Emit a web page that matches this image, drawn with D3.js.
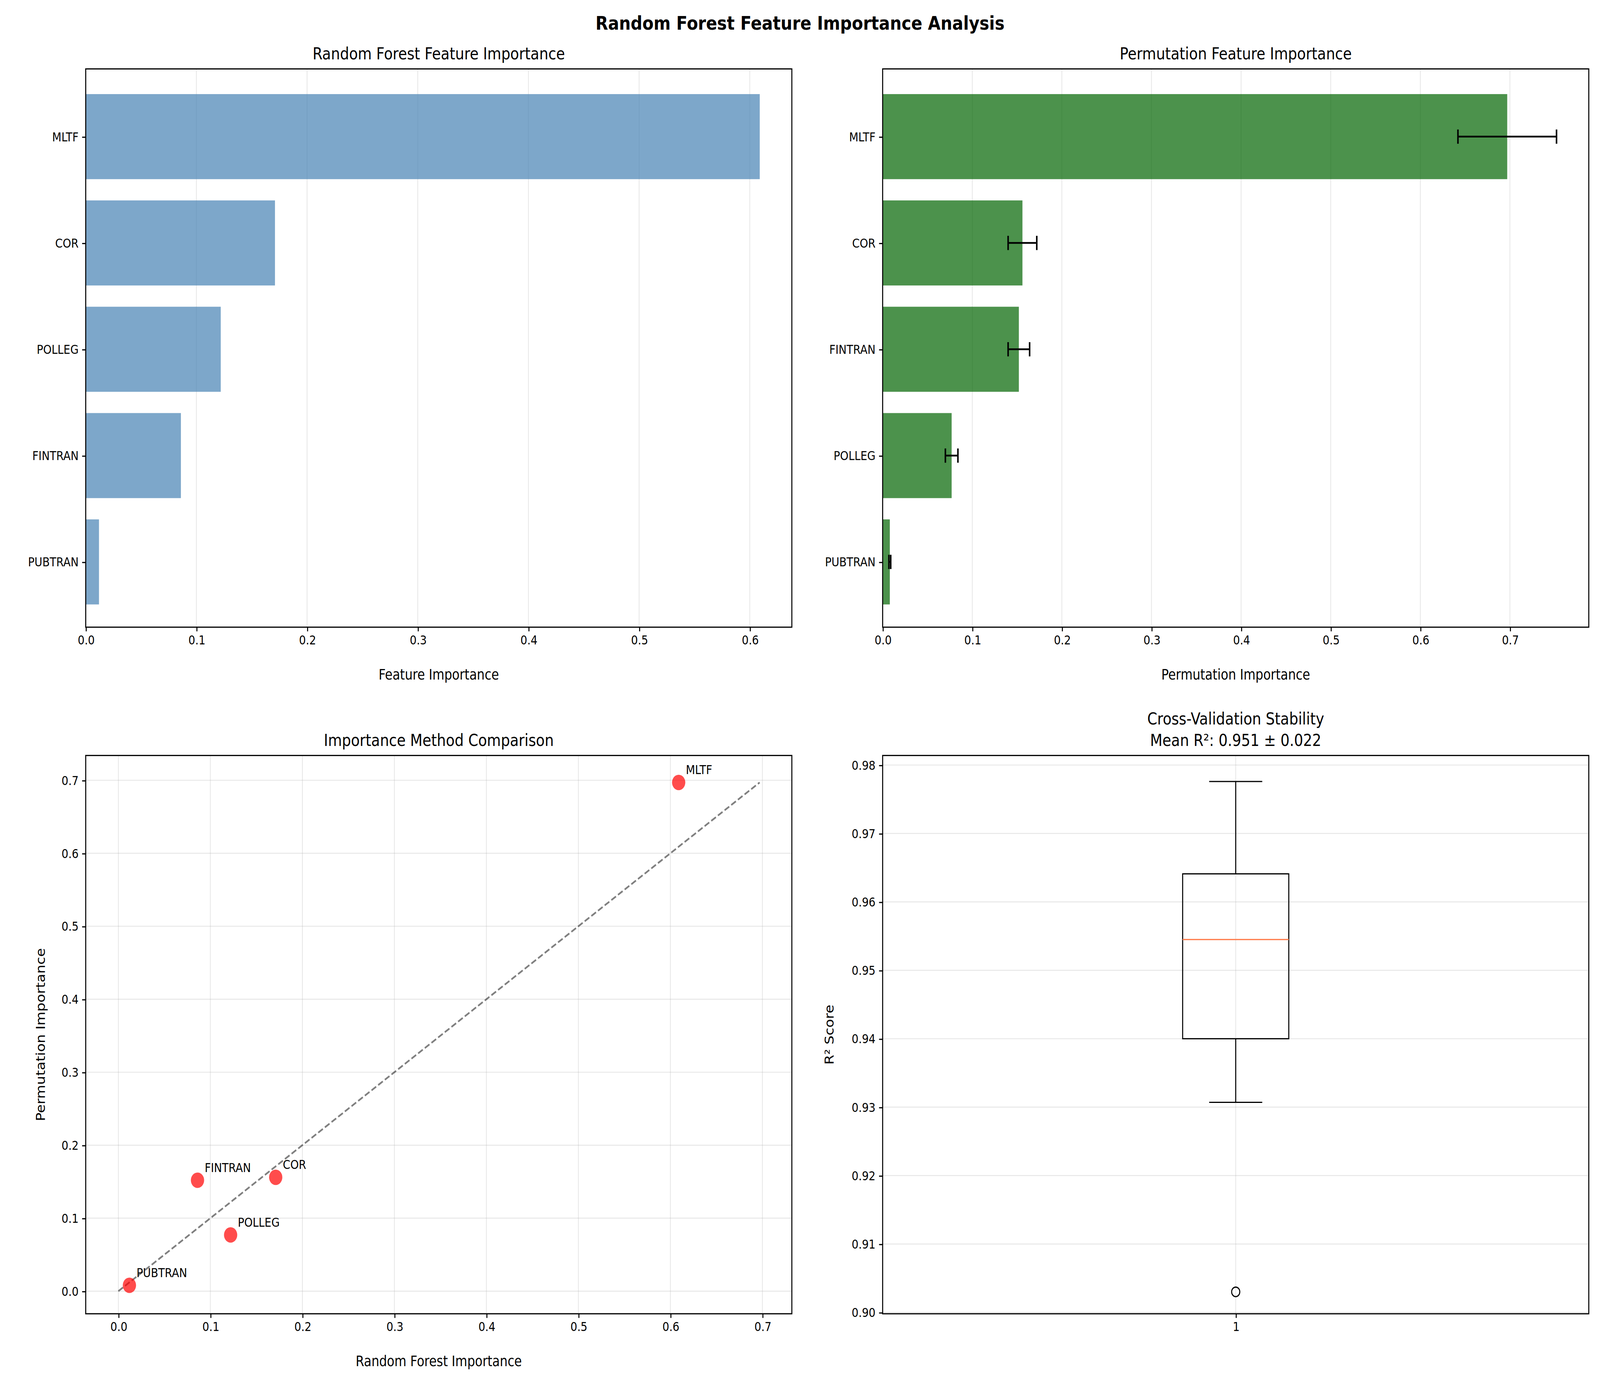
<!DOCTYPE html>
<html><head><meta charset="utf-8">
<script src="https://cdn.jsdelivr.net/npm/d3@7"></script>
<style>html,body{margin:0;padding:0;width:100%;height:100%;overflow:hidden;background:#fff}svg{display:block;width:100vw;height:100vh}text{font-family:"DejaVu Sans",sans-serif}</style>
</head><body>
<svg id="c" viewBox="0 0 1568 1162.6" preserveAspectRatio="none"></svg>
<script>
const rfFeatures = ["MLTF","COR","POLLEG","FINTRAN","PUBTRAN"];
const rfValues = [0.609,0.171,0.122,0.086,0.012];
const permFeatures = ["MLTF","COR","FINTRAN","POLLEG","PUBTRAN"];
const permValues = [0.697,0.156,0.152,0.077,0.008];
const permErrors = [0.055,0.016,0.012,0.007,0.001];
const cvStats = {whiskLo:0.9307,q1:0.940,median:0.9545,q3:0.9641,whiskHi:0.9776};
const cvOutliers = [0.903];
const xTicks1 = [0,0.1,0.2,0.3,0.4,0.5,0.6];
const xTicks2 = [0,0.1,0.2,0.3,0.4,0.5,0.6,0.7];
const yTicksBox = [0.90,0.91,0.92,0.93,0.94,0.95,0.96,0.97,0.98];

const svg=d3.select("#c");
svg.append("rect").attr("width",1568).attr("height",1163).attr("fill","#fff");
svg.append("text").attr("x",784).attr("y",25).attr("text-anchor","middle").attr("font-size",16).attr("font-weight","bold").text("Random Forest Feature Importance Analysis");

function frame(g,L,T,R,B){g.append("rect").attr("x",L).attr("y",T).attr("width",R-L).attr("height",B-T).attr("fill","none").attr("stroke","#000").attr("stroke-width",1);}
function title(g,x,y,t){g.append("text").attr("x",x).attr("y",y).attr("text-anchor","middle").attr("font-size",14).text(t);}
function xAxis(g,x,B,ticks,fmt){
  g.append("g").attr("transform",`translate(0,${B})`).call(d3.axisBottom(x).tickValues(ticks).tickFormat(fmt).tickSize(3.5).tickPadding(3.5))
   .call(a=>{a.select(".domain").remove();a.selectAll("text").attr("font-size",10.5).attr("font-family","DejaVu Sans");});
}
function yAxis(g,y,L,ticks,fmt){
  g.append("g").attr("transform",`translate(${L},0)`).call(d3.axisLeft(y).tickValues(ticks).tickFormat(fmt).tickSize(3.5).tickPadding(3.5))
   .call(a=>{a.select(".domain").remove();a.selectAll("text").attr("font-size",10.5).attr("font-family","DejaVu Sans");});
}
function vgrid(g,x,ticks,T,B){g.selectAll(null).data(ticks).enter().append("line").attr("x1",d=>x(d)).attr("x2",d=>x(d)).attr("y1",T).attr("y2",B).attr("stroke","#b0b0b0").attr("stroke-opacity",0.3).attr("stroke-width",0.8);}
function hgrid(g,y,ticks,L,R){g.selectAll(null).data(ticks).enter().append("line").attr("y1",d=>y(d)).attr("y2",d=>y(d)).attr("x1",L).attr("x2",R).attr("stroke","#b0b0b0").attr("stroke-opacity",0.3).attr("stroke-width",0.8);}
const f1=d3.format(".1f");

(function(){
  const L=84,T=58,R=776,B=528,g=svg.append("g");
  const x=d3.scaleLinear().domain([0,0.638]).range([L,R]);
  const y=d3.scaleLinear().domain([-0.637,4.614]).range([T,B]);
  vgrid(g,x,xTicks1,T,B);
  g.selectAll(null).data(rfValues).enter().append("rect").attr("x",x(0)).attr("y",(d,i)=>y(i-0.4)).attr("width",d=>x(d)-x(0)).attr("height",y(0.8)-y(0)).attr("fill","steelblue").attr("fill-opacity",0.7);
  xAxis(g,x,B,xTicks1,f1);
  yAxis(g,d3.scaleOrdinal().domain(rfFeatures).range(rfFeatures.map((d,i)=>y(i))),L,rfFeatures,d=>d);
  frame(g,L,T,R,B);
  title(g,(L+R)/2,50,"Random Forest Feature Importance");
  g.append("text").attr("x",(L+R)/2).attr("y",572).attr("text-anchor","middle").attr("font-size",12).text("Feature Importance");
})();
(function(){
  const L=865,T=58,R=1557,B=528,g=svg.append("g");
  const x=d3.scaleLinear().domain([0,0.788]).range([L,R]);
  const y=d3.scaleLinear().domain([-0.637,4.614]).range([T,B]);
  vgrid(g,x,xTicks2,T,B);
  g.selectAll(null).data(permValues).enter().append("rect").attr("x",x(0)).attr("y",(d,i)=>y(i-0.4)).attr("width",d=>x(d)-x(0)).attr("height",y(0.8)-y(0)).attr("fill","darkgreen").attr("fill-opacity",0.7);
  permValues.forEach((v,i)=>{
    const e=permErrors[i],yy=y(i);
    g.append("line").attr("x1",x(v-e)).attr("x2",x(v+e)).attr("y1",yy).attr("y2",yy).attr("stroke","#000").attr("stroke-width",1.5);
    [v-e,v+e].forEach(c=>g.append("line").attr("x1",x(c)).attr("x2",x(c)).attr("y1",yy-6).attr("y2",yy+6).attr("stroke","#000").attr("stroke-width",1.5));
  });
  xAxis(g,x,B,xTicks2,f1);
  yAxis(g,d3.scaleOrdinal().domain(permFeatures).range(permFeatures.map((d,i)=>y(i))),L,permFeatures,d=>d);
  frame(g,L,T,R,B);
  title(g,(L+R)/2,50,"Permutation Feature Importance");
  g.append("text").attr("x",(L+R)/2).attr("y",572).attr("text-anchor","middle").attr("font-size",12).text("Permutation Importance");
})();
(function(){
  const L=84,T=636,R=776,B=1106,g=svg.append("g");
  const x=d3.scaleLinear().domain([-0.0355,0.732]).range([L,R]);
  const y=d3.scaleLinear().domain([-0.031,0.734]).range([B,T]);
  vgrid(g,x,xTicks2,T,B); hgrid(g,y,xTicks2,L,R);
  const mx=d3.max(permValues);
  g.append("line").attr("x1",x(0)).attr("y1",y(0)).attr("x2",x(mx)).attr("y2",y(mx)).attr("stroke","#000").attr("stroke-opacity",0.5).attr("stroke-width",1.5).attr("stroke-dasharray","5.5,2.4");
  rfFeatures.forEach((f,i)=>{
    const p=permValues[permFeatures.indexOf(f)],r=rfValues[i];
    g.append("circle").attr("cx",x(r)).attr("cy",y(p)).attr("r",6.5).attr("fill","red").attr("fill-opacity",0.7);
    g.append("text").attr("x",x(r)+7).attr("y",y(p)-7).attr("font-size",10.5).text(f);
  });
  xAxis(g,x,B,xTicks2,f1); yAxis(g,y,L,xTicks2,f1);
  frame(g,L,T,R,B);
  title(g,(L+R)/2,628,"Importance Method Comparison");
  g.append("text").attr("x",(L+R)/2).attr("y",1150).attr("text-anchor","middle").attr("font-size",12).text("Random Forest Importance");
  g.append("text").attr("transform",`translate(44,${(T+B)/2}) rotate(-90)`).attr("text-anchor","middle").attr("font-size",12).text("Permutation Importance");
})();
(function(){
  const L=865,T=636,R=1557,B=1106,g=svg.append("g");
  const x=d3.scaleLinear().domain([0.5,1.5]).range([L,R]);
  const y=d3.scaleLinear().domain([0.8998,0.9814]).range([B,T]);
  vgrid(g,x,[1],T,B); hgrid(g,y,yTicksBox,L,R);
  const cx=x(1),s=cvStats,hw=52,cw=26;
  g.append("line").attr("x1",cx).attr("x2",cx).attr("y1",y(s.q3)).attr("y2",y(s.whiskHi)).attr("stroke","#000");
  g.append("line").attr("x1",cx).attr("x2",cx).attr("y1",y(s.q1)).attr("y2",y(s.whiskLo)).attr("stroke","#000");
  [s.whiskHi,s.whiskLo].forEach(v=>g.append("line").attr("x1",cx-cw).attr("x2",cx+cw).attr("y1",y(v)).attr("y2",y(v)).attr("stroke","#000"));
  g.append("rect").attr("x",cx-hw).attr("width",2*hw).attr("y",y(s.q3)).attr("height",y(s.q1)-y(s.q3)).attr("fill","none").attr("stroke","#000");
  g.append("line").attr("x1",cx-hw).attr("x2",cx+hw).attr("y1",y(s.median)).attr("y2",y(s.median)).attr("stroke","#ff7f50").attr("stroke-width",1);
  cvOutliers.forEach(v=>g.append("circle").attr("cx",cx).attr("cy",y(v)).attr("r",4).attr("fill","none").attr("stroke","#000"));
  xAxis(g,x,B,[1],d=>"1"); yAxis(g,y,L,yTicksBox,d3.format(".2f"));
  frame(g,L,T,R,B);
  title(g,(L+R)/2,610,"Cross-Validation Stability");
  title(g,(L+R)/2,628,"Mean R²: 0.951 ± 0.022");
  g.append("text").attr("transform",`translate(817,${(T+B)/2}) rotate(-90)`).attr("text-anchor","middle").attr("font-size",12).text("R² Score");
})();
</script></body></html>
